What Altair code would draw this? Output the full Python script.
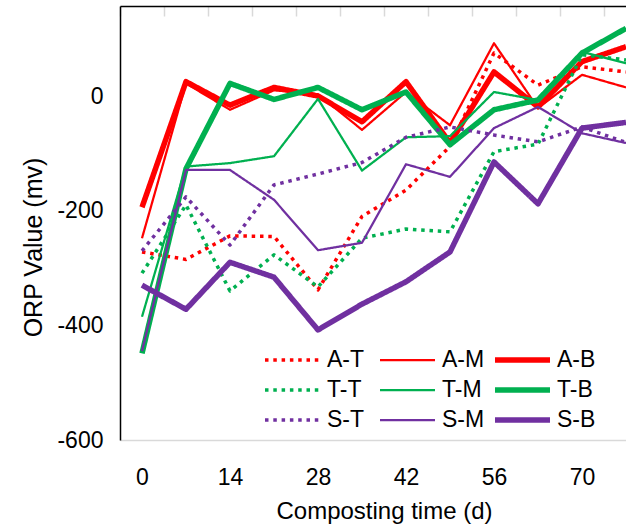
import altair as alt
import pandas as pd

# ---- data ----
days = [0, 7, 14, 21, 28, 35, 42, 49, 56, 63, 70, 77]
x_label_days = [0, 14, 28, 42, 56, 70]
y_tick_values = [-600, -400, -200, 0]
series_names = ["A-T", "A-M", "A-B", "T-T", "T-M", "T-B", "S-T", "S-M", "S-B"]
# legend is filled column by column, so list it column-wise
legend_order = ["A-T", "T-T", "S-T", "A-M", "T-M", "S-M", "A-B", "T-B", "S-B"]

a_t = [-272, -285, -244, -245, -338, -210, -164, -88, 75, 19, 51, 42]
a_m = [-248, 22, -24, 10, 3, -59, 7, -51, 92, -21, 37, 15]
a_b = [-194, 25, -16, 15, 0, -45, 25, -82, 42, -19, 60, 86]
t_t = [-309, -190, -340, -277, -333, -248, -232, -237, -97, -84, 72, 63]
t_m = [-385, -123, -117, -105, -5, -130, -72, -70, 7, -7, 77, 57]
t_b = [-449, -127, 22, -6, 15, -24, 7, -85, -24, -7, 75, 118]
s_t = [-270, -176, -260, -155, -136, -116, -72, -54, -68, -80, -54, -81]
s_m = [-445, -129, -129, -181, -269, -256, -119, -141, -56, -19, -65, -82]
s_b = [-330, -372, -290, -316, -408, -363, -324, -272, -115, -188, -56, -46]

series_values = [a_t, a_m, a_b, t_t, t_m, t_b, s_t, s_m, s_b]

# ---- styles ----
RED, GREEN, PURPLE = "#FF0000", "#00B050", "#7030A0"
group_color = {"A": RED, "T": GREEN, "S": PURPLE}
style_dash = {"T": [3.5, 4.8], "M": [1, 0], "B": [1, 0]}
style_width = {"T": 3.5, "M": 2.25, "B": 5.5}
colors = [group_color[s[0]] for s in legend_order]
dashes = [style_dash[s[-1]] for s in legend_order]
widths = [style_width[s[-1]] for s in legend_order]
FONT = "Liberation Sans"

rows = []
for name, vals in zip(series_names, series_values):
    for d, v in zip(days, vals):
        rows.append({"series": name, "day": d, "value": v})
df = pd.DataFrame(rows)

half_step = (days[1] - days[0]) / 2
x_scale = alt.Scale(domain=[days[0] - half_step, days[-1]], nice=False, zero=False)
y_scale = alt.Scale(domain=[-600, 157], nice=False, zero=False)

legend = alt.Legend(
    title=None, orient="none", legendX=142, legendY=339, columns=3,
    symbolType="stroke", symbolSize=3025, clipHeight=30, rowPadding=0,
    columnPadding=7, gridAlign="all", labelFontSize=23, labelFont=FONT,
    labelColor="black", labelOffset=4, padding=0, symbolOffset=0,
)

lines = alt.Chart(df).mark_line(strokeJoin="round").encode(
    x=alt.X("day:Q", scale=x_scale, axis=alt.Axis(
        values=x_label_days, title="Composting time (d)", ticks=False, grid=False,
        domainColor="#D9D9D9", domainWidth=1.5, labelFontSize=23, labelFont=FONT,
        labelColor="black", labelPadding=26, titleFontSize=24, titleFont=FONT,
        titleColor="black", titleFontWeight="normal", titleX=264, titleY=78,
        titleBaseline="alphabetic", titleAlign="center", labelFlush=False)),
    y=alt.Y("value:Q", scale=y_scale, axis=alt.Axis(
        values=y_tick_values, title="ORP Value (mv)", ticks=False, grid=False,
        domainColor="black", domainWidth=1.5, labelPadding=17, labelFontSize=23,
        labelFont=FONT, labelColor="black", labelExpr="'' + datum.value",
        titleFontSize=25, titleFont=FONT, titleColor="black",
        titleFontWeight="normal", titleX=-79, titleY=241, titleAngle=270,
        titleAlign="center", titleBaseline="alphabetic", labelFlush=False)),
    color=alt.Color("series:N", scale=alt.Scale(domain=legend_order, range=colors), legend=legend),
    strokeDash=alt.StrokeDash("series:N", scale=alt.Scale(domain=legend_order, range=dashes), legend=legend),
    strokeWidth=alt.StrokeWidth("series:N", scale=alt.Scale(type="ordinal", domain=legend_order, range=widths), legend=legend),
    detail="series:N",
)

tick_positions = [d - half_step for d in days]
ticks_layer = alt.Chart(df).mark_line(strokeOpacity=0).encode(
    x=alt.X("day:Q", scale=x_scale, axis=alt.Axis(
        values=tick_positions, offset=-10, tickSize=10, tickColor="#D9D9D9",
        tickWidth=1.5, labels=False, domain=False, title=None, grid=False)),
    y=alt.Y("value:Q", scale=y_scale, axis=None),
    detail="series:N",
)

top_frame = alt.Chart(df).mark_line(strokeOpacity=0).encode(
    x=alt.X("day:Q", scale=x_scale, axis=alt.Axis(
        orient="top", ticks=False, labels=False, title=None, grid=False,
        domainColor="black", domainWidth=1.5)),
    y=alt.Y("value:Q", scale=y_scale, axis=None),
    detail="series:N",
)

chart = alt.layer(lines, ticks_layer, top_frame).resolve_axis(
    x="independent", y="independent"
).properties(
    width=506, height=434,
    padding={"left": 120, "top": 6, "right": 0, "bottom": 88},
    autosize=alt.AutoSizeParams(type="none"),
).configure_view(stroke=None)

chart.save("out.html", embed_options={"renderer": "svg", "actions": False})
